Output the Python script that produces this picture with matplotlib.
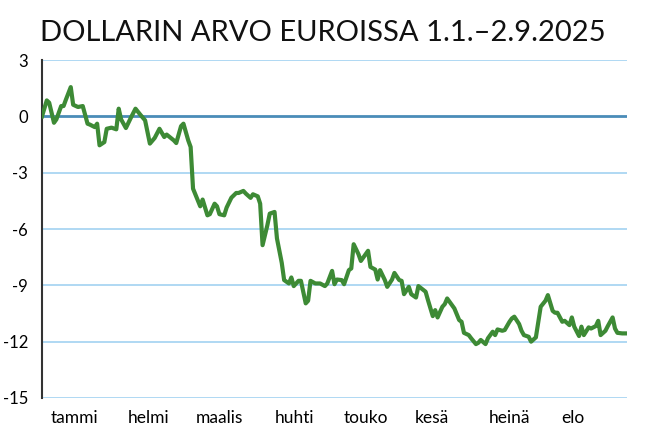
import matplotlib
matplotlib.use('Agg')
import matplotlib.pyplot as plt

# days since 1.1.2025 and change of the dollar against euro (%)
days = [0, 2, 3, 5, 6, 8, 9, 10, 12, 13, 15, 17, 19, 20, 22, 23, 24, 26, 27, 29,
        31, 32, 33, 35, 37, 39, 41, 43, 45, 47, 49, 51, 52, 55, 56, 58, 59, 61, 62, 63,
        65, 66, 67, 69, 70, 72, 73, 74, 76, 77, 79, 81, 82, 84, 85, 87, 88, 90, 91, 92,
        94, 95, 97, 98, 100, 101, 103, 104, 105, 107, 108, 110, 111, 112, 114, 116, 118, 119, 121, 122,
        123, 125, 126, 128, 129, 130, 132, 133, 136, 137, 139, 140, 141, 143, 144, 146, 147, 149, 150, 151,
        153, 154, 156, 157, 160, 161, 163, 164, 165, 167, 168, 169, 171, 172, 174, 175, 176, 178, 179, 181,
        182, 183, 185, 186, 188, 189, 190, 192, 193, 195, 196, 197, 199, 200, 201, 203, 204, 206, 207, 208,
        210, 211, 213, 214, 215, 217, 218, 220, 221, 222, 224, 225, 226, 228, 229, 231, 232, 233, 235, 236,
        238, 239, 240, 242, 244]
change = [0.0, 0.85, 0.73, -0.34, -0.16, 0.55, 0.55, 0.9, 1.56, 0.62, 0.5, 0.55, -0.39, -0.44, -0.57, -0.39, -1.54, -1.37, -0.66, -0.6,
          -0.69, 0.41, -0.16, -0.62, -0.09, 0.41, 0.09, -0.21, -1.45, -1.15, -0.66, -1.1, -0.97, -1.28, -1.42, -0.52, -0.39, -1.28, -1.63, -3.85,
          -4.47, -4.79, -4.43, -5.27, -5.21, -4.65, -4.79, -5.21, -5.27, -4.86, -4.33, -4.08, -4.08, -3.97, -4.11, -4.34, -4.15, -4.26, -4.65, -6.86,
          -5.8, -5.18, -5.09, -6.5, -7.8, -8.72, -8.9, -8.58, -9.04, -8.76, -8.76, -9.96, -9.82, -8.76, -8.9, -8.9, -9.04, -8.9, -8.23, -8.94,
          -8.69, -8.72, -8.94, -8.19, -8.1, -6.81, -7.34, -7.7, -7.16, -8.02, -8.16, -8.69, -8.19, -8.72, -9.08, -8.69, -8.34, -8.72, -8.76, -9.47,
          -9.08, -9.47, -9.65, -9.04, -9.34, -9.79, -10.64, -10.32, -10.71, -10.14, -10.0, -9.7, -10.05, -10.23, -10.85, -10.94, -11.53, -11.65, -11.82, -12.13,
          -12.06, -11.91, -12.13, -11.82, -11.47, -11.65, -11.35, -11.42, -11.38, -10.94, -10.76, -10.67, -11.06, -11.42, -11.65, -11.74, -12.0, -11.77, -10.94, -10.14,
          -9.82, -9.52, -10.36, -10.46, -10.46, -10.94, -10.89, -11.12, -10.71, -11.2, -11.7, -11.2, -11.65, -11.24, -11.3, -11.17, -10.89, -11.65, -11.42, -11.17,
          -10.71, -11.3, -11.53, -11.56, -11.56]

months = ['tammi', 'helmi', 'maalis', 'huhti', 'touko', 'kesä', 'heinä', 'elo']
month_pos = [13.6, 44.5, 74, 105.4, 135, 162.7, 194.8, 221.5]
yticks = [3, 0, -3, -6, -9, -12, -15]

plt.rcParams['font.family'] = ['Lato', 'DejaVu Sans']

fig = plt.figure(figsize=(6.5, 4.4), dpi=100)
ax = fig.add_axes([0.0646, 0.0955, 0.9, 0.768])

for y in yticks:
    if y == 0:
        continue
    ax.axhline(y, color='#a9d5f2', lw=1.3, zorder=1)
ax.axhline(0, color='#4a8cb8', lw=2, zorder=2)

ax.plot(days, change, color='#3d8a35', lw=3, solid_joinstyle='round', zorder=3)

ax.set_xlim(0, 244)
ax.set_ylim(-15, 3)
ax.set_yticks(yticks)
ax.set_yticklabels([str(y) for y in yticks], fontsize=12)
ax.set_xticks(month_pos)
ax.set_xticklabels(months, fontsize=12.5)
ax.tick_params(length=0)
ax.tick_params(axis='y', pad=10)
ax.tick_params(axis='x', pad=9)

for s in ['top', 'right', 'bottom']:
    ax.spines[s].set_visible(False)
ax.spines['left'].set_color('#333333')
ax.spines['left'].set_linewidth(1.5)

fig.text(0.496, 0.925, 'DOLLARIN ARVO EUROISSA 1.1.\u20132.9.2025', ha='center', va='center',
         fontsize=21, color='#111111')

fig.savefig('out.png', dpi=100)
